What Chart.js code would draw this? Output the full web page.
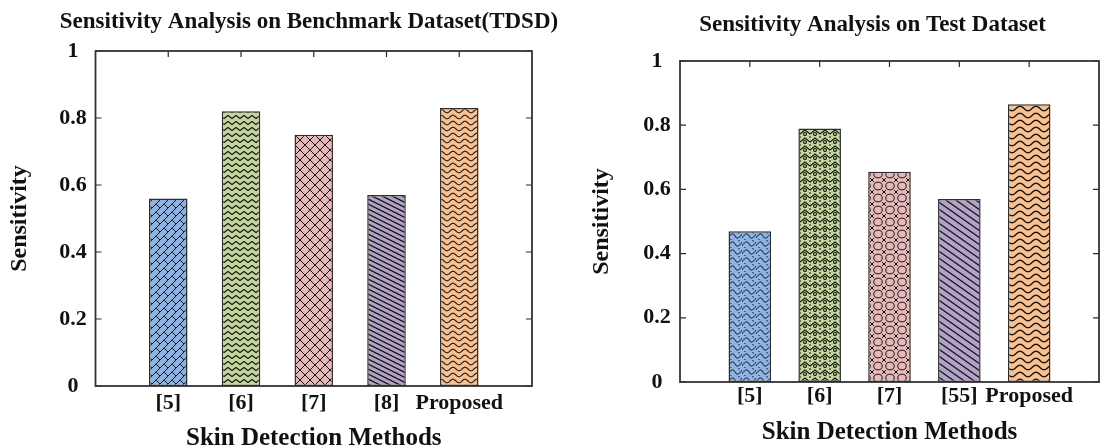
<!DOCTYPE html>
<html>
<head>
<meta charset="utf-8">
<script src="https://cdn.jsdelivr.net/npm/chart.js@4/dist/chart.umd.min.js"></script>
<style>
html, body { margin: 0; padding: 0; background: #ffffff; width: 1104px; height: 448px; overflow: hidden; position: relative; }
canvas { position: absolute; top: 0; }
#leftChart { left: 0; }
#rightChart { left: 560px; }
</style>
</head>
<body>
<canvas id="leftChart" width="618" height="448"></canvas>
<canvas id="rightChart" width="625" height="448"></canvas>
<script>
// ---------------- data ----------------
const titleLeft = 'Sensitivity Analysis on Benchmark Dataset(TDSD)';
const titleRight = 'Sensitivity Analysis on Test Dataset';
const xAxisTitle = 'Skin Detection Methods';
const yAxisTitle = 'Sensitivity';

const methodsLeft = ['[5]', '[6]', '[7]', '[8]', 'Proposed'];
const sensitivityLeft = [0.56, 0.82, 0.75, 0.57, 0.83];

const methodsRight = ['[5]', '[6]', '[7]', '[55]', 'Proposed'];
const sensitivityRight = [0.47, 0.79, 0.655, 0.57, 0.865];

const yTickLabels = ['0', '0.2', '0.4', '0.6', '0.8', '1'];
const barColors = ['#8DB4E2', '#C3D69B', '#E6B9B8', '#B3A2C7', '#FAC090'];

// ---------------- styling helpers ----------------
const FONT = 'Liberation Serif';
const INK = '#151515';

function tile(w, h, bg, lw, draw) {
  const c = document.createElement('canvas');
  c.width = w; c.height = h;
  const g = c.getContext('2d');
  g.fillStyle = bg; g.fillRect(0, 0, w, h);
  g.strokeStyle = INK; g.fillStyle = INK; g.lineWidth = lw;
  g.beginPath();
  draw(g, w, h);
  g.stroke();
  return c;
}
function seg(g, ...p) { g.moveTo(p[0], p[1]); for (let i = 2; i < p.length; i += 2) g.lineTo(p[i], p[i + 1]); }
function wave(g, w, y0, amp, x0) {
  x0 = x0 || 0;
  for (let x = -1, first = true; x <= w + 1; x += 0.5, first = false) {
    const y = y0 + amp * Math.sin(2 * Math.PI * (x - x0) / w);
    if (first) g.moveTo(x, y); else g.lineTo(x, y);
  }
}

const leftTiles = [
  tile(16, 16, barColors[0], 1, g => {           // diagonal bricks
    seg(g, 0, 8, 8, 0); seg(g, 0, 16, 16, 0); seg(g, 8, 16, 16, 8);
    seg(g, -1, 1, 1, -1); seg(g, 15, 17, 17, 15);
    seg(g, 4, 4, 8, 8); seg(g, 12, 4, 16, 8); seg(g, 4, 12, 8, 16); seg(g, 12, 12, 16, 16);
  }),
  tile(8, 6, barColors[1], 1.1, g => {            // zigzag herringbone
    seg(g, -4, 1.5, 0, 4.5, 4, 1.5, 8, 4.5, 12, 1.5);
  }),
  tile(10, 10, barColors[2], 1, g => {            // diamonds
    seg(g, -1, -1, 11, 11); seg(g, -1, 11, 11, -1);
  }),
  tile(10, 5, barColors[3], 1.3, g => {           // diagonal lines
    for (let k = -1; k <= 1; k++) seg(g, -2, -1 + 5 * k, 12, 6 + 5 * k);
  }),
  tile(12, 6, barColors[4], 1.1, g => {           // horizontal waves
    wave(g, 12, 3, 1.8); g.moveTo(-1, -3); wave(g, 12, -3, 1.8); wave(g, 12, 9, 1.8);
  })
];

const rightTiles = [
  tile(14, 8, barColors[0], 1, g => {             // curls
    g.moveTo(0, 6); g.bezierCurveTo(3, 1, 6, 1, 7, 4);
    g.moveTo(7, 4); g.bezierCurveTo(8, 7, 11, 7, 14, 2);
    g.moveTo(3, 7); g.lineTo(3, 8);
    g.moveTo(11, 0); g.lineTo(11, 1.5);
  }),
  tile(10, 8, barColors[1], 1.1, g => {           // interlocking zigzag
    seg(g, -5, 2, 0, 6, 5, 2, 10, 6, 15, 2);
    g.moveTo(6.5, 6); g.arc(5, 6, 1.5, 0, Math.PI * 2);
    seg(g, 0, 0, 0, 2); seg(g, 10, 0, 10, 2);
  }),
  tile(12, 12, barColors[2], 1, g => {            // ovals and crosses
    g.moveTo(10.2, 6); g.ellipse(6, 6, 4.2, 3.8, 0, 0, Math.PI * 2);
    [[0, 0], [12, 0], [0, 12], [12, 12]].forEach(([x, y]) => {
      seg(g, x - 2, y - 2, x + 2, y + 2); seg(g, x - 2, y + 2, x + 2, y - 2);
    });
  }),
  tile(10, 7, barColors[3], 1.3, g => {           // diagonal lines
    for (let k = -1; k <= 1; k++) seg(g, -2, -1.4 + 7 * k, 12, 8.4 + 7 * k);
  }),
  tile(16, 7, barColors[4], 1.4, g => {           // waves
    wave(g, 16, 3.5, 2.2); g.moveTo(-1, -3.5); wave(g, 16, -3.5, 2.2); wave(g, 16, 10.5, 2.2);
  })
];

// MATLAB-like box with inward tick marks, positioned from the chart's own scales
const boxPlugin = {
  id: 'matlabBox',
  beforeDatasetsDraw(chart) {
    const { ctx, chartArea: a } = chart;
    const xs = chart.scales.x, ys = chart.scales.y;
    ctx.save();
    ctx.strokeStyle = '#2b2b2b';
    ctx.lineWidth = 1.2;
    ctx.beginPath();
    ys.ticks.forEach((t, i) => {
      const y = ys.getPixelForTick(i);
      ctx.moveTo(a.left, y); ctx.lineTo(a.left + 6, y);
      ctx.moveTo(a.right, y); ctx.lineTo(a.right - 6, y);
    });
    xs.ticks.forEach((t, i) => {
      if (!xs.getLabelForValue(t.value)) return;
      const x = xs.getPixelForTick(i);
      ctx.moveTo(x, a.top); ctx.lineTo(x, a.top + 6);
    });
    ctx.stroke();
    ctx.lineWidth = 1.8;
    ctx.strokeStyle = '#333333';
    ctx.strokeRect(a.left, a.top, a.right - a.left, a.bottom - a.top);
    ctx.restore();
  }
};

function build(id, o) {
  const canvas = document.getElementById(id);
  const ctx = canvas.getContext('2d');
  const patterns = o.tiles.map(t => ctx.createPattern(t, 'repeat'));
  return new Chart(ctx, {
    type: 'bar',
    data: {
      labels: ['', ...o.labels, ''],
      datasets: [{
        data: [null, ...o.values, null],
        backgroundColor: ['rgba(0,0,0,0)', ...patterns, 'rgba(0,0,0,0)'],
        borderColor: '#2e2e2e',
        borderWidth: 1.5,
        borderSkipped: false,
        barPercentage: o.barPct,
        categoryPercentage: 1
      }]
    },
    options: {
      responsive: false,
      animation: false,
      devicePixelRatio: 1,
      layout: { padding: 0 },
      plugins: {
        legend: { display: false },
        tooltip: { enabled: false },
        title: {
          display: true, text: o.title, color: '#111',
          font: { family: FONT, size: 23, weight: 'bold' },
          padding: { top: o.titleTop, bottom: o.titleBottom }
        }
      },
      scales: {
        x: {
          type: 'category', offset: false,
          grid: { display: false, drawTicks: false }, border: { display: false },
          ticks: { autoSkip: false, maxRotation: 0, minRotation: 0, padding: o.xPad, color: '#111',
                   font: { family: FONT, size: 22, weight: 'bold' } },
          title: { display: true, text: xAxisTitle, color: '#111',
                   font: { family: FONT, size: 25, weight: 'bold', lineHeight: o.xtLH },
                   padding: { top: 0, bottom: 0 } },
          afterFit(s) { s.height = o.xH; }
        },
        y: {
          type: 'linear', min: 0, max: 1,
          grid: { display: false, drawTicks: false }, border: { display: false },
          ticks: { stepSize: 0.2, crossAlign: 'center', padding: o.yPad, color: '#111',
                   font: { family: FONT, size: 22, weight: 'bold' },
                   callback: (v, i) => yTickLabels[i] },
          title: { display: true, text: yAxisTitle, color: '#111',
                   font: { family: FONT, size: 24, weight: 'bold' },
                   padding: { top: o.ytPad, bottom: 0 } },
          afterFit(s) { s.width = o.yW; }
        },
        yR: {
          type: 'linear', position: 'right', min: 0, max: 1,
          grid: { display: false, drawTicks: false }, border: { display: false },
          ticks: { display: false },
          afterFit(s) { s.width = o.rW; }
        }
      }
    },
    plugins: [boxPlugin]
  });
}

function drawAll() {
  build('leftChart', {
    title: titleLeft, labels: methodsLeft, values: sensitivityLeft, tiles: leftTiles,
    barPct: 0.53, titleTop: 8.4, titleBottom: 15, xPad: 4.4, xtLH: 0.75, xH: 62,
    yPad: 8.75, ytPad: 5.6, yW: 95.5, rW: 86
  });
  build('rightChart', {
    title: titleRight, labels: methodsRight, values: sensitivityRight, tiles: rightTiles,
    barPct: 0.61, titleTop: 11.7, titleBottom: 21.7, xPad: 1.4, xtLH: 1.2, xH: 66,
    yPad: 9.25, ytPad: 27.3, yW: 120, rW: 86
  });
}

if (document.fonts && document.fonts.load) {
  Promise.all([
    document.fonts.load('bold 22px "Liberation Serif"')
  ]).then(drawAll, drawAll);
} else {
  drawAll();
}
</script>
</body>
</html>
